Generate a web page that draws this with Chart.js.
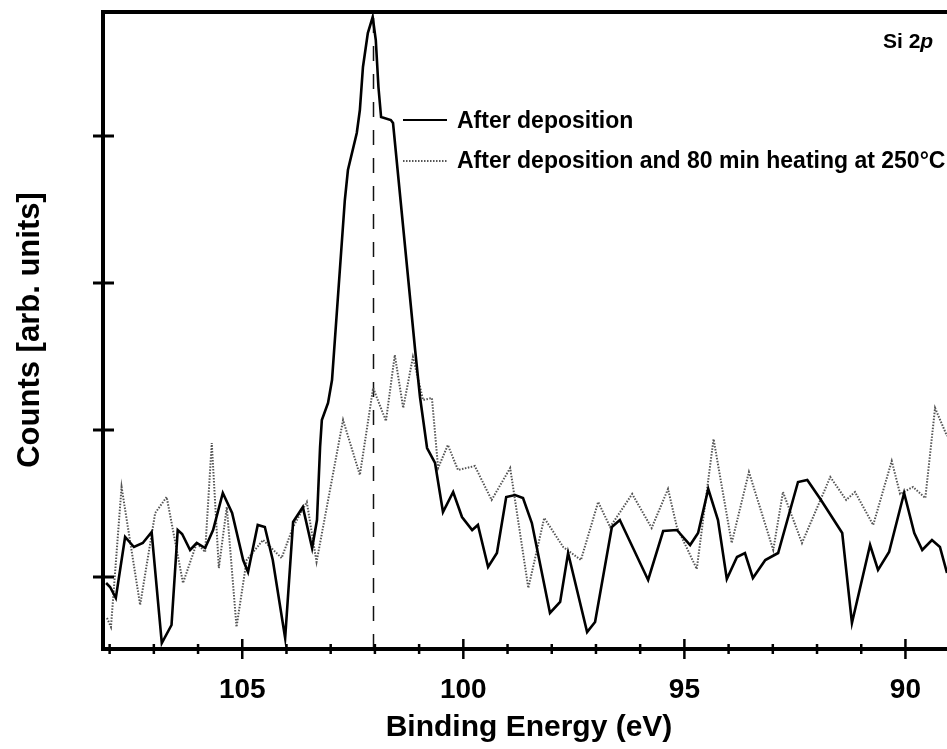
<!DOCTYPE html>
<html><head><meta charset="utf-8">
<script src="https://cdn.jsdelivr.net/npm/chart.js@4/dist/chart.umd.min.js"></script>
<style>html,body{margin:0;padding:0;background:#fff;overflow:hidden}#wrap{width:947px;height:749px;position:relative}</style>
</head><body><div id="wrap"><canvas id="c" width="947" height="749"></canvas></div>
<script>
// ---- data (binding energy in eV, counts in arbitrary units) ----
const blackEnergy = [108.08,107.99,107.86,107.65,107.45,107.25,107.05,106.82,106.60,106.46,106.36,106.18,106.03,105.84,105.66,105.44,105.23,104.98,104.87,104.65,104.49,104.31,104.03,103.85,103.63,103.42,103.31,103.24,103.20,103.06,102.97,102.68,102.61,102.41,102.34,102.27,102.16,102.05,101.98,101.92,101.86,101.64,101.59,101.09,100.98,100.82,100.64,100.46,100.23,100.03,99.80,99.67,99.44,99.24,99.03,98.83,98.65,98.45,98.04,97.81,97.63,97.20,97.02,96.64,96.46,95.82,95.48,95.17,94.87,94.69,94.46,94.24,94.04,93.81,93.63,93.45,93.17,92.88,92.43,92.22,91.91,91.43,91.21,90.80,90.62,90.37,90.03,89.80,89.62,89.40,89.22,89.06];
const blackCounts = [66,62,51,112,102,106,117,6,24,119,115,99,106,101,119,156,136,89,77,124,122,89,11,127,142,101,129,202,229,246,269,449,479,516,539,582,616,632,609,562,532,529,526,299,252,201,186,137,157,132,119,124,82,96,152,154,151,126,36,47,96,17,27,122,129,69,118,119,104,116,160,129,70,92,96,71,89,96,167,169,149,116,26,104,79,97,156,116,99,109,102,76];
const grayEnergy = [108.06,107.97,107.73,107.31,106.97,106.71,106.34,106.03,105.84,105.69,105.53,105.35,105.13,104.90,104.53,104.11,103.85,103.54,103.32,102.72,102.34,102.04,101.75,101.55,101.36,101.14,100.91,100.71,100.57,100.35,100.12,99.74,99.36,98.94,98.53,98.17,97.74,97.34,96.95,96.68,96.18,95.74,95.37,95.17,94.72,94.34,93.93,93.54,92.99,92.77,92.34,91.70,91.34,91.14,90.73,90.31,90.12,89.83,89.55,89.33,89.06];
const grayCounts = [31,22,162,44,136,152,66,106,97,206,81,142,22,89,109,91,122,147,87,229,174,261,228,294,241,292,249,251,181,204,179,183,149,181,61,131,102,89,147,122,155,121,160,122,80,210,106,177,99,157,106,172,149,157,124,188,155,162,151,241,213];
const seriesNames = ['After deposition', 'After deposition and 80 min heating at 250\u00B0C'];
const xMajorTicks = [105, 100, 95, 90];
const xMinorTicks = [108,107,106,104,103,102,101,99,98,97,96,94,93,92,91,89];
const yTicks = [72, 219, 366, 513];
const peakEnergy = 102.05;
const xRange = [89.06, 108.15];
const yRange = [0, 637];
const xTitle = 'Binding Energy (eV)';
const yTitle = 'Counts [arb. units]';

const toPoints = (xs, ys) => xs.map((x, i) => ({x: x, y: ys[i]}));

const decor = {
  id: 'decor',
  beforeDatasetsDraw(chart) {
    const ctx = chart.ctx, xs = chart.scales.x, a = chart.chartArea;
    const px = Math.round(xs.getPixelForValue(peakEnergy)) + 0.5;
    ctx.save();
    ctx.strokeStyle = '#111';
    ctx.lineWidth = 1.5;
    ctx.setLineDash([15, 13]);
    ctx.beginPath();
    ctx.moveTo(px, a.top + 6);
    ctx.lineTo(px, a.bottom);
    ctx.stroke();
    ctx.restore();
  },
  afterDraw(chart) {
    const ctx = chart.ctx, xs = chart.scales.x, ys = chart.scales.y, a = chart.chartArea;
    ctx.save();
    ctx.strokeStyle = '#000';
    ctx.fillStyle = '#000';
    ctx.setLineDash([]);
    // frame (left, top, bottom)
    ctx.lineWidth = 4;
    ctx.beginPath();
    ctx.moveTo(a.right + 5, a.top);
    ctx.lineTo(a.left, a.top);
    ctx.lineTo(a.left, a.bottom);
    ctx.lineTo(a.right + 5, a.bottom);
    ctx.stroke();
    // x ticks crossing the axis
    ctx.lineWidth = 2.5;
    xMinorTicks.forEach(v => {
      const p = xs.getPixelForValue(v);
      ctx.beginPath(); ctx.moveTo(p, a.bottom - 5); ctx.lineTo(p, a.bottom + 5); ctx.stroke();
    });
    xMajorTicks.forEach(v => {
      const p = xs.getPixelForValue(v);
      ctx.beginPath(); ctx.moveTo(p, a.bottom - 10); ctx.lineTo(p, a.bottom + 10); ctx.stroke();
    });
    // y ticks crossing the axis
    ctx.lineWidth = 3;
    yTicks.forEach(v => {
      const p = ys.getPixelForValue(v);
      ctx.beginPath(); ctx.moveTo(a.left - 10, p); ctx.lineTo(a.left + 11, p); ctx.stroke();
    });
    // tick labels
    ctx.font = 'bold 28px "Liberation Sans", Arial, sans-serif';
    ctx.textAlign = 'center';
    ctx.textBaseline = 'alphabetic';
    xMajorTicks.forEach(v => ctx.fillText(String(v), xs.getPixelForValue(v), 698));
    // axis titles
    ctx.font = 'bold 30px "Liberation Sans", Arial, sans-serif';
    ctx.fillText(xTitle, 529, 736);
    ctx.save();
    ctx.translate(39, 330);
    ctx.rotate(-Math.PI / 2);
    ctx.font = 'bold 31px "Liberation Sans", Arial, sans-serif';
    ctx.fillText(yTitle, 0, 0);
    ctx.restore();
    // legend
    const lx0 = 403, lx1 = 447;
    ctx.lineWidth = 2;
    ctx.strokeStyle = '#000';
    ctx.beginPath(); ctx.moveTo(lx0, 120); ctx.lineTo(lx1, 120); ctx.stroke();
    ctx.strokeStyle = '#555';
    ctx.setLineDash([1.5, 1.5]);
    ctx.beginPath(); ctx.moveTo(lx0, 161); ctx.lineTo(lx1, 161); ctx.stroke();
    ctx.setLineDash([]);
    ctx.font = 'bold 23px "Liberation Sans", Arial, sans-serif';
    ctx.textAlign = 'left';
    ctx.fillText(seriesNames[0], 457, 128);
    ctx.fillText(seriesNames[1], 457, 168);
    // panel label Si 2p
    ctx.font = 'bold 21px "Liberation Sans", Arial, sans-serif';
    ctx.fillText('Si 2', 883, 48);
    const w = ctx.measureText('Si 2').width;
    ctx.font = 'bold italic 21px "Liberation Sans", Arial, sans-serif';
    ctx.fillText('p', 883 + w, 48);
    ctx.restore();
  }
};

new Chart(document.getElementById('c'), {
  type: 'line',
  data: {
    datasets: [
      {label: seriesNames[0], data: toPoints(blackEnergy, blackCounts), borderColor: '#000', borderWidth: 2.6, pointRadius: 0, tension: 0, fill: false},
      {label: seriesNames[1], data: toPoints(grayEnergy, grayCounts), borderColor: '#555', borderWidth: 2, borderDash: [1.5, 1.5], pointRadius: 0, tension: 0, fill: false}
    ]
  },
  options: {
    responsive: false,
    animation: false,
    devicePixelRatio: 1,
    layout: {padding: {top: 12, left: 0, right: 0, bottom: 0}},
    plugins: {legend: {display: false}, tooltip: {enabled: false}, title: {display: false}},
    scales: {
      x: {type: 'linear', reverse: true, min: xRange[0], max: xRange[1],
          ticks: {display: false}, grid: {display: false}, border: {display: false},
          afterFit: s => { s.height = 100; }},
      y: {type: 'linear', min: yRange[0], max: yRange[1],
          ticks: {display: false}, grid: {display: false}, border: {display: false},
          afterFit: s => { s.width = 103; }}
    }
  },
  plugins: [decor]
});
</script>
</body></html>
